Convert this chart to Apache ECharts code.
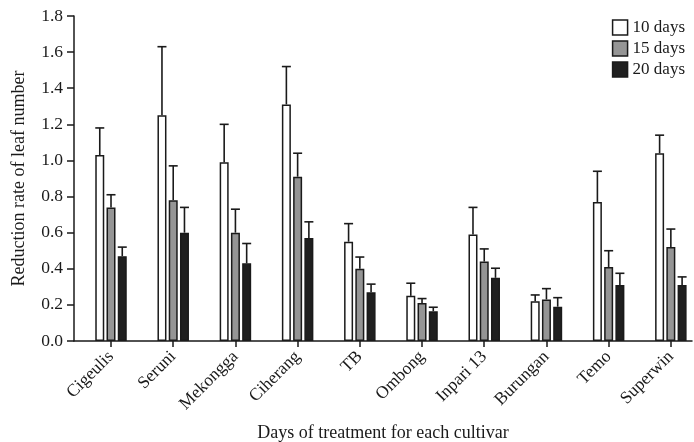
<!DOCTYPE html>
<html><head><meta charset="utf-8">
<script src="https://cdn.jsdelivr.net/npm/echarts@6/dist/echarts.min.js"></script>
<style>html,body{margin:0;padding:0;background:#fff}#c{width:694px;height:442px}</style>
</head><body><div id="c"></div>
<script>
const categories = ['Cigeulis','Seruni','Mekongga','Ciherang','TB','Ombong','Inpari 13','Burungan','Temo','Superwin'];
const seriesNames = ['10 days','15 days','20 days'];
const d10 = [1.03,1.25,0.99,1.31,0.55,0.25,0.59,0.22,0.77,1.04];
const e10 = [0.15,0.38,0.21,0.21,0.10,0.07,0.15,0.035,0.17,0.10];
const d15 = [0.74,0.78,0.60,0.91,0.40,0.21,0.44,0.23,0.41,0.52];
const e15 = [0.07,0.19,0.13,0.13,0.065,0.025,0.07,0.06,0.09,0.10];
const d20 = [0.47,0.60,0.43,0.57,0.27,0.165,0.35,0.19,0.31,0.31];
const e20 = [0.05,0.14,0.11,0.09,0.045,0.022,0.053,0.05,0.065,0.045];
const yTicks = [0,0.2,0.4,0.6,0.8,1.0,1.2,1.4,1.6,1.8];

const values = [d10,d15,d20];
const errors = [e10,e15,e20];
const catIdx = categories.map((c, i) => i);
const fills = ['#ffffff','#959595','#1f1f1f'];
const FONT = '"Liberation Serif", "DejaVu Serif", serif';
const BAR_W = 9, STEP = 11.25;

const chart = echarts.init(document.getElementById('c'));
const series = [];
values.forEach((vals, k) => {
  series.push({
    name: seriesNames[k], type: 'bar', data: vals.map((v, i) => [i, v]),
    barWidth: BAR_W, barGap: '25%',
    itemStyle: {color: fills[k], borderColor: '#1a1a1a', borderWidth: 1.5},
    z: 2
  });
});
values.forEach((vals, k) => {
  series.push({
    type: 'custom', name: 'err' + k, z: 3,
    data: vals.map((v, i) => [i, v, errors[k][i]]),
    encode: {x: 0, y: 1},
    renderItem: function (params, api) {
      const i = api.value(0), v = api.value(1), e = api.value(2);
      const p0 = api.coord([i, v]);
      const p1 = api.coord([i, v + e]);
      const x = p0[0] + (k - 1) * STEP;
      const half = BAR_W / 2;
      return {type: 'group', children: [
        {type: 'line', shape: {x1: x, y1: p0[1], x2: x, y2: p1[1]}, style: {stroke: '#1a1a1a', lineWidth: 1.6}},
        {type: 'line', shape: {x1: x - half, y1: p1[1], x2: x + half, y2: p1[1]}, style: {stroke: '#1a1a1a', lineWidth: 1.6}}
      ]};
    }
  });
});

chart.setOption({
  animation: false,
  textStyle: {fontFamily: FONT},
  grid: {left: 74, right: 2, top: 16, bottom: 101, outerBoundsMode: 'none', containLabel: false},
  legend: {
    data: seriesNames, orient: 'vertical', right: 4, top: 14,
    icon: 'rect', itemWidth: 15, itemHeight: 15, itemGap: 4,
    textStyle: {fontFamily: FONT, fontSize: 17, color: '#1a1a1a'},
    itemStyle: {borderColor: '#1a1a1a', borderWidth: 1.5}
  },
  xAxis: {
    type: 'value', min: -0.595, max: 9.34,
    name: 'Days of treatment for each cultivar', nameLocation: 'middle', nameGap: 83,
    nameTextStyle: {fontFamily: FONT, fontSize: 18, color: '#1a1a1a'},
    splitLine: {show: false},
    axisLine: {show: true, onZero: false, lineStyle: {color: '#1a1a1a', width: 1.5}},
    axisTick: {show: true, customValues: catIdx, length: 6, lineStyle: {color: '#1a1a1a', width: 1.5}},
    axisLabel: {customValues: catIdx, rotate: 45, fontFamily: FONT, fontSize: 17.5, color: '#1a1a1a', margin: 13,
      formatter: v => categories[Math.round(v)]}
  },
  yAxis: {
    type: 'value', min: 0, max: 1.8, interval: 0.2,
    name: 'Reduction rate of leaf number', nameLocation: 'middle', nameGap: 46,
    nameTextStyle: {fontFamily: FONT, fontSize: 18, color: '#1a1a1a'},
    splitLine: {show: false},
    axisLine: {show: true, onZero: false, lineStyle: {color: '#1a1a1a', width: 1.5}},
    axisTick: {show: true, length: 7, lineStyle: {color: '#1a1a1a', width: 1.5}},
    axisLabel: {fontFamily: FONT, fontSize: 17.5, color: '#1a1a1a', margin: 11,
      formatter: v => yTicks.includes(Math.round(v*10)/10) ? v.toFixed(1) : ''}
  },
  series: series
});
</script></body></html>
